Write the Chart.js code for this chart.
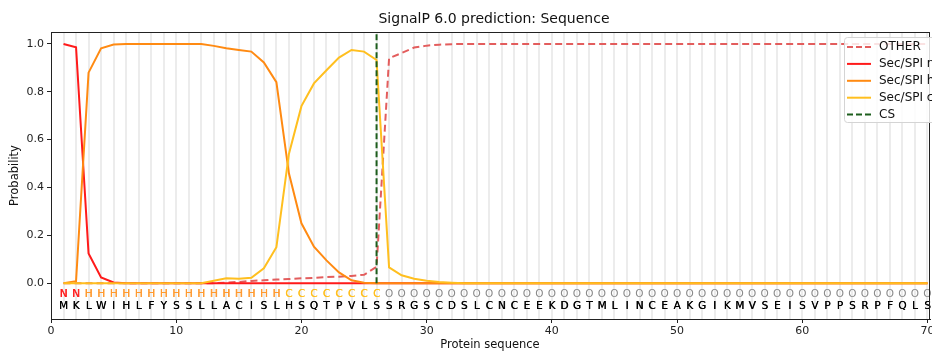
<!DOCTYPE html>
<html>
<head>
<meta charset="utf-8">
<script src="https://cdn.jsdelivr.net/npm/chart.js@4.4.1/dist/chart.umd.min.js"></script>
<style>
  body { margin: 0; background: #fff; }
  canvas { display: block; }
</style>
</head>
<body>
<canvas id="signalpChart" width="932" height="351"></canvas>
<script>
// sequence + per-residue labels
const sequence = 'MKLWIHLFYSSLLACISLHSQTPVLSSRGSCDSLCNCEEKDGTMLINCEAKGIKMVSEISVPPSRPFQLS'.split('');
const regionLabels = 'NNHHHHHHHHHHHHHHHHCCCCCCCCOOOOOOOOOOOOOOOOOOOOOOOOOOOOOOOOOOOOOOOOOOOO'.split('');

// probabilities, one per residue (positions 1..70)
const probOther = [0, 0, 0, 0, 0, 0, 0, 0, 0, 0, 0, 0, 0, 0.002, 0.005, 0.009, 0.012, 0.015, 0.017, 0.02,
  0.022, 0.025, 0.027, 0.03, 0.035, 0.068, 0.94, 0.962, 0.985, 0.993, 0.997, 0.999, 1, 1, 1, 1, 1, 1, 1, 1,
  1, 1, 1, 1, 1, 1, 1, 1, 1, 1, 1, 1, 1, 1, 1, 1, 1, 1, 1, 1, 1, 1, 1, 1, 1, 1, 1, 1, 1, 1];
const probN = [1.0, 0.986, 0.124, 0.024, 0.003, 0, 0, 0, 0, 0, 0, 0, 0, 0, 0, 0, 0, 0, 0, 0,
  0, 0, 0, 0, 0, 0, 0, 0, 0, 0, 0, 0, 0, 0, 0, 0, 0, 0, 0, 0,
  0, 0, 0, 0, 0, 0, 0, 0, 0, 0, 0, 0, 0, 0, 0, 0, 0, 0, 0, 0, 0, 0, 0, 0, 0, 0, 0, 0, 0, 0];
const probH = [0, 0.008, 0.88, 0.982, 0.998, 1, 1, 1, 1, 1, 1, 1, 0.992, 0.982, 0.975, 0.968, 0.923, 0.84, 0.459, 0.25,
  0.152, 0.095, 0.045, 0.012, 0.002, 0, 0, 0, 0, 0, 0, 0, 0, 0, 0, 0, 0, 0, 0, 0,
  0, 0, 0, 0, 0, 0, 0, 0, 0, 0, 0, 0, 0, 0, 0, 0, 0, 0, 0, 0, 0, 0, 0, 0, 0, 0, 0, 0, 0, 0];
const probC = [0, 0, 0, 0, 0, 0, 0, 0, 0, 0, 0, 0, 0.01, 0.02, 0.018, 0.022, 0.062, 0.15, 0.54, 0.74,
  0.835, 0.89, 0.943, 0.975, 0.968, 0.933, 0.066, 0.033, 0.018, 0.01, 0.005, 0.002, 0, 0, 0, 0, 0, 0, 0, 0,
  0, 0, 0, 0, 0, 0, 0, 0, 0, 0, 0, 0, 0, 0, 0, 0, 0, 0, 0, 0, 0, 0, 0, 0, 0, 0, 0, 0, 0, 0];
const cleavageSite = 26;

const yTicks = [0, 0.2, 0.4, 0.6, 0.8, 1.0];
const xTicks = [0, 10, 20, 30, 40, 50, 60, 70];

const colors = {
  OTHER: '#e35d5d',
  n: '#ff1a1a',
  h: '#ff8a12',
  c: '#ffbf1f',
  CS: '#1d5e1d'
};
const labelColors = { N: '#ff2020', H: '#ff9a30', C: '#ffbf1f', O: '#8a8a8a' };

const FONT = "'DejaVu Sans', sans-serif";

function toPoints(arr) {
  return arr.map((v, i) => ({ x: i + 1, y: v }));
}

// gray residue lines, sequence letters, frame, title, axis titles, legend
const decorPlugin = {
  id: 'decor',
  beforeDatasetsDraw(chart) {
    const { ctx, chartArea: a, scales: { x } } = chart;
    ctx.save();
    ctx.strokeStyle = 'rgba(0,0,0,0.075)';
    ctx.lineWidth = 2;
    for (let i = 1; i <= sequence.length; i++) {
      const px = Math.round(x.getPixelForValue(i));
      ctx.beginPath();
      ctx.moveTo(px, a.top);
      ctx.lineTo(px, a.bottom);
      ctx.stroke();
    }
    ctx.restore();
  },
  afterDatasetsDraw(chart) {
    const { ctx, chartArea: a, scales: { x, y } } = chart;
    ctx.save();

    // letters under the curves
    ctx.textAlign = 'center';
    ctx.textBaseline = 'middle';
    ctx.font = '10.5px ' + FONT;
    const yLab = y.getPixelForValue(-0.045);
    const ySeq = y.getPixelForValue(-0.095);
    sequence.forEach((aa, i) => {
      const px = x.getPixelForValue(i + 1);
      ctx.fillStyle = labelColors[regionLabels[i]];
      ctx.fillText(regionLabels[i], px, yLab);
      if (regionLabels[i] !== 'O') ctx.fillText(regionLabels[i], px + 0.3, yLab);
      ctx.fillStyle = '#000';
      ctx.fillText(aa, px, ySeq);
      ctx.fillText(aa, px + 0.3, ySeq);
    });

    // full box
    ctx.strokeStyle = '#222';
    ctx.lineWidth = 1;
    ctx.strokeRect(a.left + 0.5, a.top + 0.5, a.right - a.left - 1, a.bottom - a.top);

    // title + axis titles
    ctx.fillStyle = '#111';
    ctx.font = '14px ' + FONT;
    ctx.fillText('SignalP 6.0 prediction: Sequence', 494, 19.5);
    ctx.font = '11.5px ' + FONT;
    ctx.fillText('Protein sequence', 490, 345);
    ctx.save();
    ctx.translate(15, (a.top + a.bottom) / 2);
    ctx.rotate(-Math.PI / 2);
    ctx.fillText('Probability', 0, 0);
    ctx.restore();

    // legend box
    const lx = 844, ly = 37;
    ctx.fillStyle = 'rgba(255,255,255,0.82)';
    ctx.strokeStyle = '#d4d4d4';
    ctx.beginPath();
    ctx.roundRect(lx + 0.5, ly + 0.5, 100, 85, 3);
    ctx.fill();
    ctx.stroke();
    const items = [
      { text: 'OTHER', color: colors.OTHER, dash: [6, 3] },
      { text: 'Sec/SPI n', color: colors.n, dash: [] },
      { text: 'Sec/SPI h', color: colors.h, dash: [] },
      { text: 'Sec/SPI c', color: colors.c, dash: [] },
      { text: 'CS', color: colors.CS, dash: [6, 3] }
    ];
    ctx.font = '12px ' + FONT;
    ctx.textAlign = 'left';
    items.forEach((it, k) => {
      const ry = 47 + k * 16.9;
      ctx.strokeStyle = it.color;
      ctx.lineWidth = 2;
      ctx.setLineDash(it.dash);
      ctx.beginPath();
      ctx.moveTo(847, ry);
      ctx.lineTo(871, ry);
      ctx.stroke();
      ctx.setLineDash([]);
      ctx.fillStyle = '#111';
      ctx.fillText(it.text, 879, ry);
    });
    ctx.restore();
  }
};

const ctx = document.getElementById('signalpChart').getContext('2d');
const signalpChart = new Chart(ctx, {
  type: 'scatter',
  data: {
    datasets: [
      {
        label: 'CS',
        data: [{ x: cleavageSite, y: 0 }, { x: cleavageSite, y: 1.05 }],
        borderColor: colors.CS,
        borderDash: [6, 3],
        borderWidth: 2,
        order: 0
      },
      {
        label: 'Sec/SPI c',
        data: toPoints(probC),
        borderColor: colors.c,
        borderWidth: 2,
        order: 1
      },
      {
        label: 'Sec/SPI h',
        data: toPoints(probH),
        borderColor: colors.h,
        borderWidth: 2,
        order: 2
      },
      {
        label: 'Sec/SPI n',
        data: toPoints(probN),
        borderColor: colors.n,
        borderWidth: 2,
        order: 3
      },
      {
        label: 'OTHER',
        data: toPoints(probOther),
        borderColor: colors.OTHER,
        borderDash: [7, 4],
        borderWidth: 2,
        order: 4
      }
    ]
  },
  options: {
    responsive: false,
    animation: false,
    showLine: true,
    clip: false,
    elements: {
      point: { radius: 0, hoverRadius: 0 },
      line: { tension: 0, fill: false, borderCapStyle: 'butt' }
    },
    layout: { padding: { top: 32, left: 0, right: 2, bottom: 0 } },
    plugins: {
      legend: { display: false },
      tooltip: { enabled: false }
    },
    scales: {
      x: {
        type: 'linear',
        min: 0,
        max: 70.2,
        afterFit(scale) {
          scale.height = 32;
          scale.paddingLeft = 0;
          scale.paddingRight = 0;
        },
        afterBuildTicks(scale) { scale.ticks = xTicks.map(v => ({ value: v })); },
        grid: { drawOnChartArea: false, drawTicks: true, tickLength: 4, color: '#222' },
        border: { display: true, color: '#222' },
        ticks: {
          padding: 2,
          color: '#222',
          font: { family: FONT, size: 11 },
          maxRotation: 0,
          callback: v => String(v)
        }
      },
      y: {
        type: 'linear',
        min: -0.15,
        max: 1.05,
        afterFit(scale) {
          scale.width = 51;
          scale.paddingTop = 0;
          scale.paddingBottom = 0;
        },
        afterBuildTicks(scale) { scale.ticks = yTicks.map(v => ({ value: v })); },
        grid: { drawOnChartArea: false, drawTicks: true, tickLength: 4, color: '#222' },
        border: { display: true, color: '#222' },
        ticks: {
          padding: 3,
          color: '#222',
          font: { family: FONT, size: 11 },
          callback: v => v.toFixed(1)
        }
      }
    }
  },
  plugins: [decorPlugin]
});
</script>
</body>
</html>
